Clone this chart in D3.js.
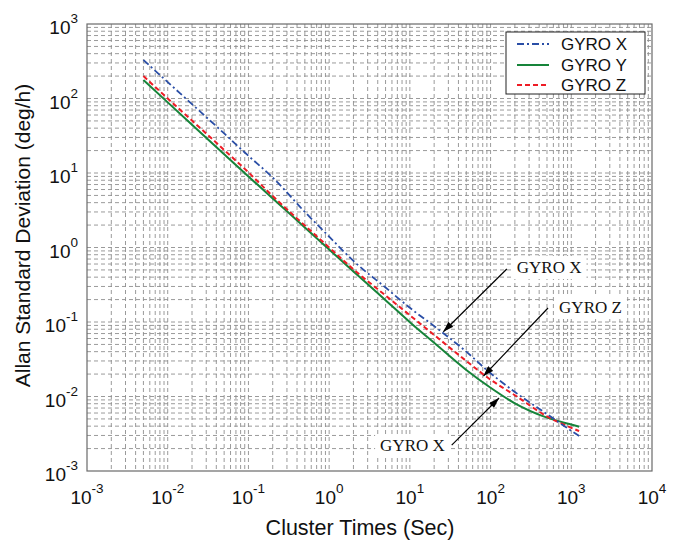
<!DOCTYPE html>
<html>
<head>
<meta charset="utf-8">
<script src="https://cdn.jsdelivr.net/npm/d3@7/dist/d3.min.js"></script>
<style>
  html, body { margin: 0; padding: 0; background: #fff; }
  svg { display: block; }
</style>
</head>
<body>
<svg id="chart" width="684" height="547"></svg>
<script>
// ---- data ----
const clusterTimes = [0.005, 0.01, 0.02, 0.05, 0.1, 0.2, 0.5, 1, 2, 5, 10, 20, 50, 100, 200, 500, 1000, 1250];
const gyroX = [329, 166, 84, 34, 17, 8.7, 3.0, 1.4, 0.66, 0.29, 0.155, 0.088, 0.040, 0.0205, 0.0115, 0.0058, 0.00346, 0.00295];
const gyroY = [177, 88.7, 44.5, 17.9, 9.0, 4.55, 1.86, 0.94, 0.478, 0.196, 0.0995, 0.0526, 0.0227, 0.0131, 0.0081, 0.0052, 0.0042, 0.00393];
const gyroZ = [200, 100, 50.5, 20.4, 10.2, 4.9, 1.97, 1.0, 0.508, 0.227, 0.123, 0.067, 0.030, 0.0168, 0.0104, 0.0054, 0.0038, 0.00344];

const seriesNames = ["GYRO X", "GYRO Y", "GYRO Z"];
const xTickExps = [-3, -2, -1, 0, 1, 2, 3, 4];
const yTickExps = [-3, -2, -1, 0, 1, 2, 3];

const xLabel = "Cluster Times (Sec)";
const yLabel = "Allan Standard Deviation (deg/h)";

// annotations: text, anchor position (data units), arrow from/to (data units)
const annoTexts = ["GYRO X", "GYRO Z", "GYRO X"];
const annoTextX = [211, 706, 4.28];
const annoTextY = [0.547, 0.159, 0.00223];
const arrowFromX = [159, 515, 33.0];
const arrowFromY = [0.514, 0.154, 0.00223];
const arrowToX = [26.0, 81.5, 127.4];
const arrowToY = [0.0741, 0.0188, 0.00955];

// ---- layout ----
const svg = d3.select("#chart");
const L = 87, R = 652, T = 24, B = 471;
const x = d3.scaleLog().domain([1e-3, 1e4]).range([L, R]);
const y = d3.scaleLog().domain([1e-3, 1e3]).range([B, T]);

const styles = [
  { color: "#2a4ea6", dash: "7,3,2,3", width: 1.8 },
  { color: "#16843a", dash: null, width: 2 },
  { color: "#ee1c25", dash: "5,3", width: 2 }
];

// grid
const gridG = svg.append("g");
const xGridVals = [];
for (let e = -3; e < 4; e++) for (let k = 1; k <= 9; k++) xGridVals.push(k * Math.pow(10, e));
xGridVals.push(1e4);
const yGridVals = [];
for (let e = -3; e < 3; e++) for (let k = 1; k <= 9; k++) yGridVals.push(k * Math.pow(10, e));
yGridVals.push(1e3);

const gridColor = "#8e8e8e";
gridG.selectAll("line.gx").data(xGridVals.filter((v, i) => i > 0 && i < xGridVals.length - 1))
  .enter().append("line")
  .attr("x1", d => x(d)).attr("x2", d => x(d))
  .attr("y1", T).attr("y2", B)
  .attr("stroke", gridColor).attr("stroke-width", 0.9)
  .attr("stroke-dasharray", "4,3");
gridG.selectAll("line.gy").data(yGridVals.filter((v, i) => i > 0 && i < yGridVals.length - 1))
  .enter().append("line")
  .attr("y1", d => y(d)).attr("y2", d => y(d))
  .attr("x1", L).attr("x2", R)
  .attr("stroke", gridColor).attr("stroke-width", 0.9)
  .attr("stroke-dasharray", "4,3");

// frame
svg.append("rect").attr("x", L).attr("y", T).attr("width", R - L).attr("height", B - T)
  .attr("fill", "none").attr("stroke", "#6a6a6a").attr("stroke-width", 1.2);

// tick labels
const fontSans = "Arial, 'Liberation Sans', Helvetica, sans-serif";
xTickExps.forEach(e => {
  const t = svg.append("text")
    .attr("x", x(Math.pow(10, e))).attr("y", 504)
    .attr("text-anchor", "middle")
    .attr("font-family", fontSans).attr("font-size", 19).attr("fill", "#111");
  t.append("tspan").text("10");
  t.append("tspan").attr("dy", -11).attr("font-size", 13.5).text(String(e));
});
yTickExps.forEach(e => {
  const t = svg.append("text")
    .attr("x", L - 9).attr("y", y(Math.pow(10, e)) + 10)
    .attr("text-anchor", "end")
    .attr("font-family", fontSans).attr("font-size", 19).attr("fill", "#111");
  t.append("tspan").text("10");
  t.append("tspan").attr("dy", -11).attr("font-size", 13.5).text(String(e));
});

// axis titles
svg.append("text").attr("x", 360).attr("y", 535)
  .attr("text-anchor", "middle").attr("font-family", fontSans).attr("font-size", 21.5)
  .attr("fill", "#111").text(xLabel);
svg.append("text")
  .attr("transform", `translate(30, ${(T + B) / 2 - 12}) rotate(-90)`)
  .attr("text-anchor", "middle").attr("font-family", fontSans).attr("font-size", 21)
  .attr("fill", "#111").text(yLabel);

// lines
const seriesData = [gyroX, gyroY, gyroZ];
const line = d3.line().x(d => x(d[0])).y(d => y(d[1])).curve(d3.curveMonotoneX);
// draw order: Y (green) bottom, Z, X on top
[1, 2, 0].forEach(i => {
  const pts = clusterTimes.map((t, j) => [t, seriesData[i][j]]);
  const p = svg.append("path").datum(pts)
    .attr("d", line).attr("fill", "none")
    .attr("stroke", styles[i].color).attr("stroke-width", styles[i].width);
  if (styles[i].dash) p.attr("stroke-dasharray", styles[i].dash);
});

// annotations
svg.append("defs").append("marker")
  .attr("id", "ah").attr("viewBox", "0 0 12 8").attr("refX", 12).attr("refY", 4)
  .attr("markerWidth", 12).attr("markerHeight", 7).attr("markerUnits", "userSpaceOnUse")
  .attr("orient", "auto")
  .append("path").attr("d", "M0,0 L12,4 L0,8 Z").attr("fill", "#000");

const fontSerif = "'Times New Roman', 'Liberation Serif', serif";
annoTexts.forEach((txt, i) => {
  const g = svg.append("g");
  const t = g.append("text")
    .attr("x", x(annoTextX[i])).attr("y", y(annoTextY[i]) + 6)
    .attr("font-family", fontSerif).attr("font-size", 17).attr("fill", "#111")
    .text(txt);
  const bb = t.node().getBBox();
  g.insert("rect", "text").attr("x", bb.x - 5).attr("y", bb.y - 2)
    .attr("width", bb.width + 10).attr("height", bb.height + 4).attr("fill", "#fff");
  svg.append("line")
    .attr("x1", x(arrowFromX[i])).attr("y1", y(arrowFromY[i]))
    .attr("x2", x(arrowToX[i])).attr("y2", y(arrowToY[i]))
    .attr("stroke", "#000").attr("stroke-width", 1.2)
    .attr("marker-end", "url(#ah)");
});

// legend
const lg = svg.append("g");
lg.append("rect").attr("x", 506).attr("y", 32).attr("width", 139).attr("height", 62)
  .attr("fill", "#fff").attr("stroke", "#222").attr("stroke-width", 1);
const rowY = [44, 65, 85];
seriesNames.forEach((name, i) => {
  const ln = lg.append("line").attr("x1", 517).attr("x2", 549)
    .attr("y1", rowY[i]).attr("y2", rowY[i])
    .attr("stroke", styles[i].color).attr("stroke-width", styles[i].width);
  if (styles[i].dash) ln.attr("stroke-dasharray", styles[i].dash);
  lg.append("text").attr("x", 561).attr("y", rowY[i] + 6)
    .attr("font-family", fontSans).attr("font-size", 17).attr("fill", "#111")
    .text(name);
});
</script>
</body>
</html>
